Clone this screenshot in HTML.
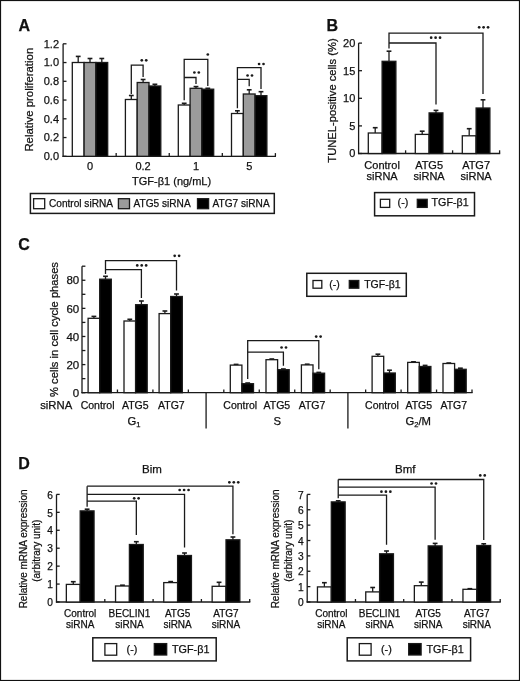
<!DOCTYPE html>
<html><head><meta charset="utf-8"><style>
html,body{margin:0;padding:0;background:#fff;}
svg{display:block;}
text{font-family:"Liberation Sans",sans-serif;fill:#111;stroke:#111;stroke-width:0.25px;}
svg{-webkit-font-smoothing:antialiased;filter:grayscale(1);}
</style></head><body>
<svg width="520" height="681" viewBox="0 0 520 681">
<rect width="520" height="681" fill="#fff"/>
<rect x="0.5" y="0.5" width="519" height="680" fill="none" stroke="#111" stroke-width="1.2"/>
<text x="18.50" y="31.40" font-size="16" text-anchor="start" font-weight="bold" >A</text>
<line x1="63.10" y1="43.80" x2="63.10" y2="156.90" stroke="#1a1a1a" stroke-width="1.3"/>
<line x1="63.10" y1="156.30" x2="66.50" y2="156.30" stroke="#1a1a1a" stroke-width="1.3"/>
<text x="59.00" y="160.20" font-size="11" text-anchor="end" font-weight="normal" >0.0</text>
<line x1="63.10" y1="137.55" x2="66.50" y2="137.55" stroke="#1a1a1a" stroke-width="1.3"/>
<text x="59.00" y="141.45" font-size="11" text-anchor="end" font-weight="normal" >0.2</text>
<line x1="63.10" y1="118.80" x2="66.50" y2="118.80" stroke="#1a1a1a" stroke-width="1.3"/>
<text x="59.00" y="122.70" font-size="11" text-anchor="end" font-weight="normal" >0.4</text>
<line x1="63.10" y1="100.05" x2="66.50" y2="100.05" stroke="#1a1a1a" stroke-width="1.3"/>
<text x="59.00" y="103.95" font-size="11" text-anchor="end" font-weight="normal" >0.6</text>
<line x1="63.10" y1="81.30" x2="66.50" y2="81.30" stroke="#1a1a1a" stroke-width="1.3"/>
<text x="59.00" y="85.20" font-size="11" text-anchor="end" font-weight="normal" >0.8</text>
<line x1="63.10" y1="62.55" x2="66.50" y2="62.55" stroke="#1a1a1a" stroke-width="1.3"/>
<text x="59.00" y="66.45" font-size="11" text-anchor="end" font-weight="normal" >1.0</text>
<line x1="63.10" y1="43.80" x2="66.50" y2="43.80" stroke="#1a1a1a" stroke-width="1.3"/>
<text x="59.00" y="47.70" font-size="11" text-anchor="end" font-weight="normal" >1.2</text>
<line x1="62.50" y1="156.30" x2="276.00" y2="156.30" stroke="#1a1a1a" stroke-width="1.3"/>
<line x1="116.17" y1="156.30" x2="116.17" y2="153.10" stroke="#1a1a1a" stroke-width="1.3"/>
<line x1="169.25" y1="156.30" x2="169.25" y2="153.10" stroke="#1a1a1a" stroke-width="1.3"/>
<line x1="222.32" y1="156.30" x2="222.32" y2="153.10" stroke="#1a1a1a" stroke-width="1.3"/>
<line x1="275.40" y1="156.30" x2="275.40" y2="153.10" stroke="#1a1a1a" stroke-width="1.3"/>
<text transform="translate(32.60,99.70) rotate(-90)" font-size="11.4" text-anchor="middle">Relative proliferation</text>
<text x="90.00" y="170.40" font-size="11" text-anchor="middle" font-weight="normal" >0</text>
<text x="143.10" y="170.40" font-size="11" text-anchor="middle" font-weight="normal" >0.2</text>
<text x="196.00" y="170.40" font-size="11" text-anchor="middle" font-weight="normal" >1</text>
<text x="249.20" y="170.40" font-size="11" text-anchor="middle" font-weight="normal" >5</text>
<text x="171.60" y="185.20" font-size="11" text-anchor="middle" font-weight="normal" >TGF-β1 (ng/mL)</text>
<line x1="78.20" y1="56.40" x2="78.20" y2="62.50" stroke="#1a1a1a" stroke-width="1.3"/>
<line x1="75.80" y1="56.40" x2="80.60" y2="56.40" stroke="#1a1a1a" stroke-width="1.6"/>
<rect x="72.30" y="62.50" width="11.80" height="93.80" fill="#fff" stroke="#1a1a1a" stroke-width="1.3"/>
<line x1="90.00" y1="58.50" x2="90.00" y2="62.50" stroke="#1a1a1a" stroke-width="1.3"/>
<line x1="87.60" y1="58.50" x2="92.40" y2="58.50" stroke="#1a1a1a" stroke-width="1.6"/>
<rect x="84.10" y="62.50" width="11.80" height="93.80" fill="#9b9b9b" stroke="#1a1a1a" stroke-width="1.3"/>
<line x1="101.80" y1="58.50" x2="101.80" y2="62.50" stroke="#1a1a1a" stroke-width="1.3"/>
<line x1="99.40" y1="58.50" x2="104.20" y2="58.50" stroke="#1a1a1a" stroke-width="1.6"/>
<rect x="95.90" y="62.50" width="11.80" height="93.80" fill="#000" stroke="#1a1a1a" stroke-width="1.3"/>
<line x1="131.30" y1="95.50" x2="131.30" y2="99.50" stroke="#1a1a1a" stroke-width="1.3"/>
<line x1="128.90" y1="95.50" x2="133.70" y2="95.50" stroke="#1a1a1a" stroke-width="1.6"/>
<rect x="125.40" y="99.50" width="11.80" height="56.80" fill="#fff" stroke="#1a1a1a" stroke-width="1.3"/>
<line x1="143.10" y1="79.50" x2="143.10" y2="82.50" stroke="#1a1a1a" stroke-width="1.3"/>
<line x1="140.70" y1="79.50" x2="145.50" y2="79.50" stroke="#1a1a1a" stroke-width="1.6"/>
<rect x="137.20" y="82.50" width="11.80" height="73.80" fill="#9b9b9b" stroke="#1a1a1a" stroke-width="1.3"/>
<line x1="154.90" y1="84.30" x2="154.90" y2="86.00" stroke="#1a1a1a" stroke-width="1.3"/>
<line x1="152.50" y1="84.30" x2="157.30" y2="84.30" stroke="#1a1a1a" stroke-width="1.6"/>
<rect x="149.00" y="86.00" width="11.80" height="70.30" fill="#000" stroke="#1a1a1a" stroke-width="1.3"/>
<line x1="184.20" y1="103.30" x2="184.20" y2="105.00" stroke="#1a1a1a" stroke-width="1.3"/>
<line x1="181.80" y1="103.30" x2="186.60" y2="103.30" stroke="#1a1a1a" stroke-width="1.6"/>
<rect x="178.30" y="105.00" width="11.80" height="51.30" fill="#fff" stroke="#1a1a1a" stroke-width="1.3"/>
<line x1="196.00" y1="86.60" x2="196.00" y2="88.30" stroke="#1a1a1a" stroke-width="1.3"/>
<line x1="193.60" y1="86.60" x2="198.40" y2="86.60" stroke="#1a1a1a" stroke-width="1.6"/>
<rect x="190.10" y="88.30" width="11.80" height="68.00" fill="#9b9b9b" stroke="#1a1a1a" stroke-width="1.3"/>
<line x1="207.80" y1="88.30" x2="207.80" y2="89.20" stroke="#1a1a1a" stroke-width="1.3"/>
<line x1="205.40" y1="88.30" x2="210.20" y2="88.30" stroke="#1a1a1a" stroke-width="1.6"/>
<rect x="201.90" y="89.20" width="11.80" height="67.10" fill="#000" stroke="#1a1a1a" stroke-width="1.3"/>
<line x1="237.40" y1="110.80" x2="237.40" y2="113.50" stroke="#1a1a1a" stroke-width="1.3"/>
<line x1="235.00" y1="110.80" x2="239.80" y2="110.80" stroke="#1a1a1a" stroke-width="1.6"/>
<rect x="231.50" y="113.50" width="11.80" height="42.80" fill="#fff" stroke="#1a1a1a" stroke-width="1.3"/>
<line x1="249.20" y1="89.80" x2="249.20" y2="94.00" stroke="#1a1a1a" stroke-width="1.3"/>
<line x1="246.80" y1="89.80" x2="251.60" y2="89.80" stroke="#1a1a1a" stroke-width="1.6"/>
<rect x="243.30" y="94.00" width="11.80" height="62.30" fill="#9b9b9b" stroke="#1a1a1a" stroke-width="1.3"/>
<line x1="261.00" y1="91.70" x2="261.00" y2="95.70" stroke="#1a1a1a" stroke-width="1.3"/>
<line x1="258.60" y1="91.70" x2="263.40" y2="91.70" stroke="#1a1a1a" stroke-width="1.6"/>
<rect x="255.10" y="95.70" width="11.80" height="60.60" fill="#000" stroke="#1a1a1a" stroke-width="1.3"/>
<polyline points="131.30,94.00 131.30,65.20 143.10,65.20 143.10,77.00" fill="none" stroke="#1a1a1a" stroke-width="1.3" stroke-linejoin="miter"/>
<circle cx="141.78" cy="60.30" r="1.35" fill="#1a1a1a"/>
<circle cx="146.22" cy="60.30" r="1.35" fill="#1a1a1a"/>
<polyline points="184.20,100.30 184.20,59.30 207.80,59.30 207.80,86.00" fill="none" stroke="#1a1a1a" stroke-width="1.3" stroke-linejoin="miter"/>
<polyline points="184.20,77.50 196.00,77.50 196.00,84.00" fill="none" stroke="#1a1a1a" stroke-width="1.3" stroke-linejoin="miter"/>
<circle cx="207.80" cy="54.50" r="1.35" fill="#1a1a1a"/>
<circle cx="194.38" cy="72.50" r="1.35" fill="#1a1a1a"/>
<circle cx="198.82" cy="72.50" r="1.35" fill="#1a1a1a"/>
<polyline points="237.40,108.30 237.40,67.70 261.00,67.70 261.00,89.00" fill="none" stroke="#1a1a1a" stroke-width="1.3" stroke-linejoin="miter"/>
<polyline points="237.40,79.40 249.20,79.40 249.20,86.20" fill="none" stroke="#1a1a1a" stroke-width="1.3" stroke-linejoin="miter"/>
<circle cx="259.07" cy="64.00" r="1.35" fill="#1a1a1a"/>
<circle cx="263.52" cy="64.00" r="1.35" fill="#1a1a1a"/>
<circle cx="247.57" cy="75.50" r="1.35" fill="#1a1a1a"/>
<circle cx="252.02" cy="75.50" r="1.35" fill="#1a1a1a"/>
<rect x="30.40" y="193.50" width="243.90" height="19.90" fill="none" stroke="#1a1a1a" stroke-width="1.5"/>
<rect x="33.60" y="198.70" width="11.10" height="10.00" fill="#fff" stroke="#1a1a1a" stroke-width="1.3"/>
<text x="49.00" y="207.00" font-size="10.1" text-anchor="start" font-weight="normal" >Control siRNA</text>
<rect x="118.40" y="198.70" width="11.10" height="10.00" fill="#9b9b9b" stroke="#1a1a1a" stroke-width="1.3"/>
<text x="133.60" y="207.00" font-size="10.1" text-anchor="start" font-weight="normal" >ATG5 siRNA</text>
<rect x="197.50" y="198.70" width="11.10" height="10.00" fill="#000" stroke="#1a1a1a" stroke-width="1.3"/>
<text x="212.60" y="207.00" font-size="10.1" text-anchor="start" font-weight="normal" >ATG7 siRNA</text>
<text x="326.40" y="31.40" font-size="16" text-anchor="start" font-weight="bold" >B</text>
<line x1="358.60" y1="43.10" x2="358.60" y2="154.10" stroke="#1a1a1a" stroke-width="1.3"/>
<line x1="358.60" y1="153.50" x2="362.00" y2="153.50" stroke="#1a1a1a" stroke-width="1.3"/>
<text x="355.30" y="157.40" font-size="11" text-anchor="end" font-weight="normal" >0</text>
<line x1="358.60" y1="125.90" x2="362.00" y2="125.90" stroke="#1a1a1a" stroke-width="1.3"/>
<text x="355.30" y="129.80" font-size="11" text-anchor="end" font-weight="normal" >5</text>
<line x1="358.60" y1="98.30" x2="362.00" y2="98.30" stroke="#1a1a1a" stroke-width="1.3"/>
<text x="355.30" y="102.20" font-size="11" text-anchor="end" font-weight="normal" >10</text>
<line x1="358.60" y1="70.70" x2="362.00" y2="70.70" stroke="#1a1a1a" stroke-width="1.3"/>
<text x="355.30" y="74.60" font-size="11" text-anchor="end" font-weight="normal" >15</text>
<line x1="358.60" y1="43.10" x2="362.00" y2="43.10" stroke="#1a1a1a" stroke-width="1.3"/>
<text x="355.30" y="47.00" font-size="11" text-anchor="end" font-weight="normal" >20</text>
<line x1="358.00" y1="153.50" x2="500.20" y2="153.50" stroke="#1a1a1a" stroke-width="1.3"/>
<line x1="405.60" y1="153.50" x2="405.60" y2="150.30" stroke="#1a1a1a" stroke-width="1.3"/>
<line x1="452.60" y1="153.50" x2="452.60" y2="150.30" stroke="#1a1a1a" stroke-width="1.3"/>
<line x1="499.60" y1="153.50" x2="499.60" y2="150.30" stroke="#1a1a1a" stroke-width="1.3"/>
<text transform="translate(335.60,100.50) rotate(-90)" font-size="11.2" text-anchor="middle">TUNEL-positive cells (%)</text>
<text x="382.10" y="168.60" font-size="11" text-anchor="middle" font-weight="normal" >Control</text>
<text x="382.10" y="179.60" font-size="11" text-anchor="middle" font-weight="normal" >siRNA</text>
<text x="429.10" y="168.60" font-size="11" text-anchor="middle" font-weight="normal" >ATG5</text>
<text x="429.10" y="179.60" font-size="11" text-anchor="middle" font-weight="normal" >siRNA</text>
<text x="476.10" y="168.60" font-size="11" text-anchor="middle" font-weight="normal" >ATG7</text>
<text x="476.10" y="179.60" font-size="11" text-anchor="middle" font-weight="normal" >siRNA</text>
<line x1="375.20" y1="127.70" x2="375.20" y2="133.00" stroke="#1a1a1a" stroke-width="1.3"/>
<line x1="372.80" y1="127.70" x2="377.60" y2="127.70" stroke="#1a1a1a" stroke-width="1.6"/>
<rect x="368.30" y="133.00" width="13.80" height="20.50" fill="#fff" stroke="#1a1a1a" stroke-width="1.3"/>
<line x1="389.00" y1="51.20" x2="389.00" y2="61.30" stroke="#1a1a1a" stroke-width="1.3"/>
<line x1="386.60" y1="51.20" x2="391.40" y2="51.20" stroke="#1a1a1a" stroke-width="1.6"/>
<rect x="382.10" y="61.30" width="13.80" height="92.20" fill="#000" stroke="#1a1a1a" stroke-width="1.3"/>
<line x1="422.20" y1="131.20" x2="422.20" y2="134.40" stroke="#1a1a1a" stroke-width="1.3"/>
<line x1="419.80" y1="131.20" x2="424.60" y2="131.20" stroke="#1a1a1a" stroke-width="1.6"/>
<rect x="415.30" y="134.40" width="13.80" height="19.10" fill="#fff" stroke="#1a1a1a" stroke-width="1.3"/>
<line x1="436.00" y1="110.40" x2="436.00" y2="112.90" stroke="#1a1a1a" stroke-width="1.3"/>
<line x1="433.60" y1="110.40" x2="438.40" y2="110.40" stroke="#1a1a1a" stroke-width="1.6"/>
<rect x="429.10" y="112.90" width="13.80" height="40.60" fill="#000" stroke="#1a1a1a" stroke-width="1.3"/>
<line x1="469.20" y1="128.70" x2="469.20" y2="135.80" stroke="#1a1a1a" stroke-width="1.3"/>
<line x1="466.80" y1="128.70" x2="471.60" y2="128.70" stroke="#1a1a1a" stroke-width="1.6"/>
<rect x="462.30" y="135.80" width="13.80" height="17.70" fill="#fff" stroke="#1a1a1a" stroke-width="1.3"/>
<line x1="483.00" y1="99.80" x2="483.00" y2="108.00" stroke="#1a1a1a" stroke-width="1.3"/>
<line x1="480.60" y1="99.80" x2="485.40" y2="99.80" stroke="#1a1a1a" stroke-width="1.6"/>
<rect x="476.10" y="108.00" width="13.80" height="45.50" fill="#000" stroke="#1a1a1a" stroke-width="1.3"/>
<polyline points="389.00,48.50 389.00,33.10 483.00,33.10 483.00,94.00" fill="none" stroke="#1a1a1a" stroke-width="1.3" stroke-linejoin="miter"/>
<polyline points="389.00,43.00 436.00,43.00 436.00,104.60" fill="none" stroke="#1a1a1a" stroke-width="1.3" stroke-linejoin="miter"/>
<circle cx="479.15" cy="27.30" r="1.35" fill="#1a1a1a"/>
<circle cx="483.60" cy="27.30" r="1.35" fill="#1a1a1a"/>
<circle cx="488.05" cy="27.30" r="1.35" fill="#1a1a1a"/>
<circle cx="431.15" cy="37.70" r="1.35" fill="#1a1a1a"/>
<circle cx="435.60" cy="37.70" r="1.35" fill="#1a1a1a"/>
<circle cx="440.05" cy="37.70" r="1.35" fill="#1a1a1a"/>
<rect x="374.60" y="192.60" width="99.90" height="23.20" fill="none" stroke="#1a1a1a" stroke-width="1.5"/>
<rect x="380.40" y="199.30" width="9.30" height="8.10" fill="#fff" stroke="#1a1a1a" stroke-width="1.3"/>
<text x="397.60" y="206.00" font-size="10.7" text-anchor="start" font-weight="normal" >(-)</text>
<rect x="417.30" y="199.30" width="9.90" height="8.10" fill="#000" stroke="#1a1a1a" stroke-width="1.3"/>
<text x="431.60" y="206.00" font-size="10.7" text-anchor="start" font-weight="normal" >TGF-β1</text>
<text x="18.30" y="250.20" font-size="16" text-anchor="start" font-weight="bold" >C</text>
<line x1="82.00" y1="266.20" x2="82.00" y2="393.30" stroke="#1a1a1a" stroke-width="1.3"/>
<line x1="82.00" y1="392.70" x2="85.40" y2="392.70" stroke="#1a1a1a" stroke-width="1.3"/>
<text x="79.20" y="396.90" font-size="11.5" text-anchor="end" font-weight="normal" >0</text>
<line x1="82.00" y1="378.64" x2="85.40" y2="378.64" stroke="#1a1a1a" stroke-width="1.3"/>
<line x1="82.00" y1="364.59" x2="85.40" y2="364.59" stroke="#1a1a1a" stroke-width="1.3"/>
<text x="79.20" y="368.79" font-size="11.5" text-anchor="end" font-weight="normal" >20</text>
<line x1="82.00" y1="350.53" x2="85.40" y2="350.53" stroke="#1a1a1a" stroke-width="1.3"/>
<line x1="82.00" y1="336.48" x2="85.40" y2="336.48" stroke="#1a1a1a" stroke-width="1.3"/>
<text x="79.20" y="340.68" font-size="11.5" text-anchor="end" font-weight="normal" >40</text>
<line x1="82.00" y1="322.42" x2="85.40" y2="322.42" stroke="#1a1a1a" stroke-width="1.3"/>
<line x1="82.00" y1="308.37" x2="85.40" y2="308.37" stroke="#1a1a1a" stroke-width="1.3"/>
<text x="79.20" y="312.57" font-size="11.5" text-anchor="end" font-weight="normal" >60</text>
<line x1="82.00" y1="294.31" x2="85.40" y2="294.31" stroke="#1a1a1a" stroke-width="1.3"/>
<line x1="82.00" y1="280.26" x2="85.40" y2="280.26" stroke="#1a1a1a" stroke-width="1.3"/>
<text x="79.20" y="284.46" font-size="11.5" text-anchor="end" font-weight="normal" >80</text>
<line x1="82.00" y1="266.20" x2="85.40" y2="266.20" stroke="#1a1a1a" stroke-width="1.3"/>
<line x1="81.40" y1="392.70" x2="472.60" y2="392.70" stroke="#1a1a1a" stroke-width="1.3"/>
<line x1="117.45" y1="392.70" x2="117.45" y2="389.50" stroke="#1a1a1a" stroke-width="1.3"/>
<line x1="152.91" y1="392.70" x2="152.91" y2="389.50" stroke="#1a1a1a" stroke-width="1.3"/>
<line x1="188.36" y1="392.70" x2="188.36" y2="389.50" stroke="#1a1a1a" stroke-width="1.3"/>
<line x1="223.82" y1="392.70" x2="223.82" y2="389.50" stroke="#1a1a1a" stroke-width="1.3"/>
<line x1="259.27" y1="392.70" x2="259.27" y2="389.50" stroke="#1a1a1a" stroke-width="1.3"/>
<line x1="294.73" y1="392.70" x2="294.73" y2="389.50" stroke="#1a1a1a" stroke-width="1.3"/>
<line x1="330.18" y1="392.70" x2="330.18" y2="389.50" stroke="#1a1a1a" stroke-width="1.3"/>
<line x1="365.64" y1="392.70" x2="365.64" y2="389.50" stroke="#1a1a1a" stroke-width="1.3"/>
<line x1="401.09" y1="392.70" x2="401.09" y2="389.50" stroke="#1a1a1a" stroke-width="1.3"/>
<line x1="436.55" y1="392.70" x2="436.55" y2="389.50" stroke="#1a1a1a" stroke-width="1.3"/>
<line x1="472.00" y1="392.70" x2="472.00" y2="389.50" stroke="#1a1a1a" stroke-width="1.3"/>
<line x1="206.09" y1="392.70" x2="206.09" y2="428.60" stroke="#1a1a1a" stroke-width="1.3"/>
<line x1="347.91" y1="392.70" x2="347.91" y2="428.60" stroke="#1a1a1a" stroke-width="1.3"/>
<text transform="translate(58.20,329.50) rotate(-90)" font-size="11.2" text-anchor="middle">% cells in cell cycle phases</text>
<text x="97.60" y="408.70" font-size="10.5" text-anchor="middle" font-weight="normal" >Control</text>
<text x="135.30" y="408.70" font-size="10.5" text-anchor="middle" font-weight="normal" >ATG5</text>
<text x="171.40" y="408.70" font-size="10.5" text-anchor="middle" font-weight="normal" >ATG7</text>
<text x="240.30" y="408.70" font-size="10.5" text-anchor="middle" font-weight="normal" >Control</text>
<text x="276.90" y="408.70" font-size="10.5" text-anchor="middle" font-weight="normal" >ATG5</text>
<text x="312.00" y="408.70" font-size="10.5" text-anchor="middle" font-weight="normal" >ATG7</text>
<text x="382.00" y="408.70" font-size="10.5" text-anchor="middle" font-weight="normal" >Control</text>
<text x="418.80" y="408.70" font-size="10.5" text-anchor="middle" font-weight="normal" >ATG5</text>
<text x="453.80" y="408.70" font-size="10.5" text-anchor="middle" font-weight="normal" >ATG7</text>
<text x="40.20" y="408.70" font-size="11.3" text-anchor="start" font-weight="normal" >siRNA</text>
<line x1="93.90" y1="316.40" x2="93.90" y2="318.30" stroke="#1a1a1a" stroke-width="1.3"/>
<line x1="91.50" y1="316.40" x2="96.30" y2="316.40" stroke="#1a1a1a" stroke-width="1.6"/>
<rect x="88.10" y="318.30" width="11.60" height="74.40" fill="#fff" stroke="#1a1a1a" stroke-width="1.3"/>
<line x1="105.50" y1="276.30" x2="105.50" y2="279.20" stroke="#1a1a1a" stroke-width="1.3"/>
<line x1="103.10" y1="276.30" x2="107.90" y2="276.30" stroke="#1a1a1a" stroke-width="1.6"/>
<rect x="99.70" y="279.20" width="11.60" height="113.50" fill="#000" stroke="#1a1a1a" stroke-width="1.3"/>
<line x1="129.80" y1="319.30" x2="129.80" y2="321.00" stroke="#1a1a1a" stroke-width="1.3"/>
<line x1="127.40" y1="319.30" x2="132.20" y2="319.30" stroke="#1a1a1a" stroke-width="1.6"/>
<rect x="124.00" y="321.00" width="11.60" height="71.70" fill="#fff" stroke="#1a1a1a" stroke-width="1.3"/>
<line x1="141.40" y1="301.00" x2="141.40" y2="304.70" stroke="#1a1a1a" stroke-width="1.3"/>
<line x1="139.00" y1="301.00" x2="143.80" y2="301.00" stroke="#1a1a1a" stroke-width="1.6"/>
<rect x="135.60" y="304.70" width="11.60" height="88.00" fill="#000" stroke="#1a1a1a" stroke-width="1.3"/>
<line x1="164.90" y1="311.00" x2="164.90" y2="313.60" stroke="#1a1a1a" stroke-width="1.3"/>
<line x1="162.50" y1="311.00" x2="167.30" y2="311.00" stroke="#1a1a1a" stroke-width="1.6"/>
<rect x="159.10" y="313.60" width="11.60" height="79.10" fill="#fff" stroke="#1a1a1a" stroke-width="1.3"/>
<line x1="176.50" y1="294.00" x2="176.50" y2="296.50" stroke="#1a1a1a" stroke-width="1.3"/>
<line x1="174.10" y1="294.00" x2="178.90" y2="294.00" stroke="#1a1a1a" stroke-width="1.6"/>
<rect x="170.70" y="296.50" width="11.60" height="96.20" fill="#000" stroke="#1a1a1a" stroke-width="1.3"/>
<line x1="236.10" y1="364.40" x2="236.10" y2="365.10" stroke="#1a1a1a" stroke-width="1.3"/>
<line x1="233.70" y1="364.40" x2="238.50" y2="364.40" stroke="#1a1a1a" stroke-width="1.6"/>
<rect x="230.30" y="365.10" width="11.60" height="27.60" fill="#fff" stroke="#1a1a1a" stroke-width="1.3"/>
<line x1="247.70" y1="383.00" x2="247.70" y2="383.70" stroke="#1a1a1a" stroke-width="1.3"/>
<line x1="245.30" y1="383.00" x2="250.10" y2="383.00" stroke="#1a1a1a" stroke-width="1.6"/>
<rect x="241.90" y="383.70" width="11.60" height="9.00" fill="#000" stroke="#1a1a1a" stroke-width="1.3"/>
<line x1="271.80" y1="359.00" x2="271.80" y2="359.70" stroke="#1a1a1a" stroke-width="1.3"/>
<line x1="269.40" y1="359.00" x2="274.20" y2="359.00" stroke="#1a1a1a" stroke-width="1.6"/>
<rect x="266.00" y="359.70" width="11.60" height="33.00" fill="#fff" stroke="#1a1a1a" stroke-width="1.3"/>
<line x1="283.40" y1="369.00" x2="283.40" y2="369.70" stroke="#1a1a1a" stroke-width="1.3"/>
<line x1="281.00" y1="369.00" x2="285.80" y2="369.00" stroke="#1a1a1a" stroke-width="1.6"/>
<rect x="277.60" y="369.70" width="11.60" height="23.00" fill="#000" stroke="#1a1a1a" stroke-width="1.3"/>
<line x1="307.20" y1="364.20" x2="307.20" y2="364.90" stroke="#1a1a1a" stroke-width="1.3"/>
<line x1="304.80" y1="364.20" x2="309.60" y2="364.20" stroke="#1a1a1a" stroke-width="1.6"/>
<rect x="301.40" y="364.90" width="11.60" height="27.80" fill="#fff" stroke="#1a1a1a" stroke-width="1.3"/>
<line x1="318.80" y1="372.40" x2="318.80" y2="373.20" stroke="#1a1a1a" stroke-width="1.3"/>
<line x1="316.40" y1="372.40" x2="321.20" y2="372.40" stroke="#1a1a1a" stroke-width="1.6"/>
<rect x="313.00" y="373.20" width="11.60" height="19.50" fill="#000" stroke="#1a1a1a" stroke-width="1.3"/>
<line x1="377.90" y1="354.20" x2="377.90" y2="356.30" stroke="#1a1a1a" stroke-width="1.3"/>
<line x1="375.50" y1="354.20" x2="380.30" y2="354.20" stroke="#1a1a1a" stroke-width="1.6"/>
<rect x="372.10" y="356.30" width="11.60" height="36.40" fill="#fff" stroke="#1a1a1a" stroke-width="1.3"/>
<line x1="389.50" y1="370.20" x2="389.50" y2="373.00" stroke="#1a1a1a" stroke-width="1.3"/>
<line x1="387.10" y1="370.20" x2="391.90" y2="370.20" stroke="#1a1a1a" stroke-width="1.6"/>
<rect x="383.70" y="373.00" width="11.60" height="19.70" fill="#000" stroke="#1a1a1a" stroke-width="1.3"/>
<line x1="413.50" y1="361.80" x2="413.50" y2="362.40" stroke="#1a1a1a" stroke-width="1.3"/>
<line x1="411.10" y1="361.80" x2="415.90" y2="361.80" stroke="#1a1a1a" stroke-width="1.6"/>
<rect x="407.70" y="362.40" width="11.60" height="30.30" fill="#fff" stroke="#1a1a1a" stroke-width="1.3"/>
<line x1="425.10" y1="365.40" x2="425.10" y2="366.50" stroke="#1a1a1a" stroke-width="1.3"/>
<line x1="422.70" y1="365.40" x2="427.50" y2="365.40" stroke="#1a1a1a" stroke-width="1.6"/>
<rect x="419.30" y="366.50" width="11.60" height="26.20" fill="#000" stroke="#1a1a1a" stroke-width="1.3"/>
<line x1="448.80" y1="363.00" x2="448.80" y2="363.50" stroke="#1a1a1a" stroke-width="1.3"/>
<line x1="446.40" y1="363.00" x2="451.20" y2="363.00" stroke="#1a1a1a" stroke-width="1.6"/>
<rect x="443.00" y="363.50" width="11.60" height="29.20" fill="#fff" stroke="#1a1a1a" stroke-width="1.3"/>
<line x1="460.40" y1="368.20" x2="460.40" y2="369.30" stroke="#1a1a1a" stroke-width="1.3"/>
<line x1="458.00" y1="368.20" x2="462.80" y2="368.20" stroke="#1a1a1a" stroke-width="1.6"/>
<rect x="454.60" y="369.30" width="11.60" height="23.40" fill="#000" stroke="#1a1a1a" stroke-width="1.3"/>
<polyline points="105.50,274.00 105.50,260.60 176.50,260.60 176.50,290.40" fill="none" stroke="#1a1a1a" stroke-width="1.3" stroke-linejoin="miter"/>
<polyline points="105.50,269.60 141.40,269.60 141.40,298.00" fill="none" stroke="#1a1a1a" stroke-width="1.3" stroke-linejoin="miter"/>
<circle cx="137.25" cy="265.40" r="1.35" fill="#1a1a1a"/>
<circle cx="141.70" cy="265.40" r="1.35" fill="#1a1a1a"/>
<circle cx="146.15" cy="265.40" r="1.35" fill="#1a1a1a"/>
<circle cx="174.68" cy="255.80" r="1.35" fill="#1a1a1a"/>
<circle cx="179.12" cy="255.80" r="1.35" fill="#1a1a1a"/>
<polyline points="247.70,379.00 247.70,340.60 318.80,340.60 318.80,369.30" fill="none" stroke="#1a1a1a" stroke-width="1.3" stroke-linejoin="miter"/>
<polyline points="247.70,352.20 283.40,352.20 283.40,365.80" fill="none" stroke="#1a1a1a" stroke-width="1.3" stroke-linejoin="miter"/>
<circle cx="316.18" cy="336.60" r="1.35" fill="#1a1a1a"/>
<circle cx="320.62" cy="336.60" r="1.35" fill="#1a1a1a"/>
<circle cx="281.57" cy="347.50" r="1.35" fill="#1a1a1a"/>
<circle cx="286.02" cy="347.50" r="1.35" fill="#1a1a1a"/>
<text x="134.00" y="424.80" font-size="11.3" text-anchor="middle" font-weight="normal" >G<tspan font-size="7.5" dy="2.5">1</tspan></text>
<text x="277.20" y="424.80" font-size="11.3" text-anchor="middle" font-weight="normal" >S</text>
<text x="418.20" y="424.80" font-size="11.3" text-anchor="middle" font-weight="normal" >G<tspan font-size="7.5" dy="2.5">2</tspan><tspan dy="-2.5">/M</tspan></text>
<rect x="306.80" y="273.30" width="99.50" height="23.00" fill="none" stroke="#1a1a1a" stroke-width="1.5"/>
<rect x="313.00" y="280.50" width="8.80" height="7.70" fill="#fff" stroke="#1a1a1a" stroke-width="1.3"/>
<text x="329.20" y="288.00" font-size="10.5" text-anchor="start" font-weight="normal" >(-)</text>
<rect x="349.30" y="280.50" width="9.50" height="7.70" fill="#000" stroke="#1a1a1a" stroke-width="1.3"/>
<text x="364.20" y="288.00" font-size="10.5" text-anchor="start" font-weight="normal" >TGF-β1</text>
<text x="18.30" y="469.40" font-size="16" text-anchor="start" font-weight="bold" >D</text>
<line x1="56.50" y1="494.40" x2="56.50" y2="602.60" stroke="#1a1a1a" stroke-width="1.3"/>
<line x1="56.50" y1="602.00" x2="59.70" y2="602.00" stroke="#1a1a1a" stroke-width="1.3"/>
<text x="52.90" y="606.20" font-size="10.2" text-anchor="end" font-weight="normal" >0</text>
<line x1="56.50" y1="584.07" x2="59.70" y2="584.07" stroke="#1a1a1a" stroke-width="1.3"/>
<text x="52.90" y="588.27" font-size="10.2" text-anchor="end" font-weight="normal" >1</text>
<line x1="56.50" y1="566.13" x2="59.70" y2="566.13" stroke="#1a1a1a" stroke-width="1.3"/>
<text x="52.90" y="570.33" font-size="10.2" text-anchor="end" font-weight="normal" >2</text>
<line x1="56.50" y1="548.20" x2="59.70" y2="548.20" stroke="#1a1a1a" stroke-width="1.3"/>
<text x="52.90" y="552.40" font-size="10.2" text-anchor="end" font-weight="normal" >3</text>
<line x1="56.50" y1="530.27" x2="59.70" y2="530.27" stroke="#1a1a1a" stroke-width="1.3"/>
<text x="52.90" y="534.47" font-size="10.2" text-anchor="end" font-weight="normal" >4</text>
<line x1="56.50" y1="512.33" x2="59.70" y2="512.33" stroke="#1a1a1a" stroke-width="1.3"/>
<text x="52.90" y="516.53" font-size="10.2" text-anchor="end" font-weight="normal" >5</text>
<line x1="56.50" y1="494.40" x2="59.70" y2="494.40" stroke="#1a1a1a" stroke-width="1.3"/>
<text x="52.90" y="498.60" font-size="10.2" text-anchor="end" font-weight="normal" >6</text>
<line x1="55.90" y1="602.00" x2="250.30" y2="602.00" stroke="#1a1a1a" stroke-width="1.3"/>
<line x1="104.80" y1="602.00" x2="104.80" y2="599.00" stroke="#1a1a1a" stroke-width="1.3"/>
<line x1="153.10" y1="602.00" x2="153.10" y2="599.00" stroke="#1a1a1a" stroke-width="1.3"/>
<line x1="201.40" y1="602.00" x2="201.40" y2="599.00" stroke="#1a1a1a" stroke-width="1.3"/>
<line x1="249.70" y1="602.00" x2="249.70" y2="599.00" stroke="#1a1a1a" stroke-width="1.3"/>
<line x1="73.28" y1="581.70" x2="73.28" y2="584.40" stroke="#1a1a1a" stroke-width="1.3"/>
<line x1="70.88" y1="581.70" x2="75.68" y2="581.70" stroke="#1a1a1a" stroke-width="1.6"/>
<rect x="66.35" y="584.40" width="13.85" height="17.60" fill="#fff" stroke="#1a1a1a" stroke-width="1.3"/>
<line x1="87.12" y1="509.20" x2="87.12" y2="510.90" stroke="#1a1a1a" stroke-width="1.3"/>
<line x1="84.72" y1="509.20" x2="89.53" y2="509.20" stroke="#1a1a1a" stroke-width="1.6"/>
<rect x="80.20" y="510.90" width="13.85" height="91.10" fill="#000" stroke="#1a1a1a" stroke-width="1.3"/>
<line x1="122.48" y1="585.20" x2="122.48" y2="586.00" stroke="#1a1a1a" stroke-width="1.3"/>
<line x1="120.08" y1="585.20" x2="124.88" y2="585.20" stroke="#1a1a1a" stroke-width="1.6"/>
<rect x="115.55" y="586.00" width="13.85" height="16.00" fill="#fff" stroke="#1a1a1a" stroke-width="1.3"/>
<line x1="136.32" y1="541.70" x2="136.32" y2="544.50" stroke="#1a1a1a" stroke-width="1.3"/>
<line x1="133.92" y1="541.70" x2="138.72" y2="541.70" stroke="#1a1a1a" stroke-width="1.6"/>
<rect x="129.40" y="544.50" width="13.85" height="57.50" fill="#000" stroke="#1a1a1a" stroke-width="1.3"/>
<line x1="170.68" y1="581.60" x2="170.68" y2="582.60" stroke="#1a1a1a" stroke-width="1.3"/>
<line x1="168.28" y1="581.60" x2="173.08" y2="581.60" stroke="#1a1a1a" stroke-width="1.6"/>
<rect x="163.75" y="582.60" width="13.85" height="19.40" fill="#fff" stroke="#1a1a1a" stroke-width="1.3"/>
<line x1="184.52" y1="553.00" x2="184.52" y2="555.50" stroke="#1a1a1a" stroke-width="1.3"/>
<line x1="182.12" y1="553.00" x2="186.92" y2="553.00" stroke="#1a1a1a" stroke-width="1.6"/>
<rect x="177.60" y="555.50" width="13.85" height="46.50" fill="#000" stroke="#1a1a1a" stroke-width="1.3"/>
<line x1="219.07" y1="582.30" x2="219.07" y2="586.30" stroke="#1a1a1a" stroke-width="1.3"/>
<line x1="216.67" y1="582.30" x2="221.47" y2="582.30" stroke="#1a1a1a" stroke-width="1.6"/>
<rect x="212.15" y="586.30" width="13.85" height="15.70" fill="#fff" stroke="#1a1a1a" stroke-width="1.3"/>
<line x1="232.93" y1="537.00" x2="232.93" y2="539.80" stroke="#1a1a1a" stroke-width="1.3"/>
<line x1="230.53" y1="537.00" x2="235.33" y2="537.00" stroke="#1a1a1a" stroke-width="1.6"/>
<rect x="226.00" y="539.80" width="13.85" height="62.20" fill="#000" stroke="#1a1a1a" stroke-width="1.3"/>
<text x="80.20" y="616.60" font-size="10" text-anchor="middle" font-weight="normal" >Control</text>
<text x="80.20" y="627.60" font-size="10" text-anchor="middle" font-weight="normal" >siRNA</text>
<text x="129.40" y="616.60" font-size="10" text-anchor="middle" font-weight="normal" >BECLIN1</text>
<text x="129.40" y="627.60" font-size="10" text-anchor="middle" font-weight="normal" >siRNA</text>
<text x="177.60" y="616.60" font-size="10" text-anchor="middle" font-weight="normal" >ATG5</text>
<text x="177.60" y="627.60" font-size="10" text-anchor="middle" font-weight="normal" >siRNA</text>
<text x="226.00" y="616.60" font-size="10" text-anchor="middle" font-weight="normal" >ATG7</text>
<text x="226.00" y="627.60" font-size="10" text-anchor="middle" font-weight="normal" >siRNA</text>
<text x="151.90" y="473.20" font-size="11.5" text-anchor="middle" font-weight="normal" >Bim</text>
<polyline points="87.12,486.20 232.93,486.20 232.93,534.20" fill="none" stroke="#1a1a1a" stroke-width="1.3" stroke-linejoin="miter"/>
<polyline points="87.12,494.40 184.53,494.40 184.53,547.50" fill="none" stroke="#1a1a1a" stroke-width="1.3" stroke-linejoin="miter"/>
<polyline points="87.12,501.10 136.33,501.10 136.33,535.00" fill="none" stroke="#1a1a1a" stroke-width="1.3" stroke-linejoin="miter"/>
<line x1="87.12" y1="486.20" x2="87.12" y2="506.70" stroke="#1a1a1a" stroke-width="1.3"/>
<circle cx="134.18" cy="498.30" r="1.35" fill="#1a1a1a"/>
<circle cx="138.62" cy="498.30" r="1.35" fill="#1a1a1a"/>
<circle cx="179.65" cy="490.00" r="1.35" fill="#1a1a1a"/>
<circle cx="184.10" cy="490.00" r="1.35" fill="#1a1a1a"/>
<circle cx="188.55" cy="490.00" r="1.35" fill="#1a1a1a"/>
<circle cx="229.35" cy="482.30" r="1.35" fill="#1a1a1a"/>
<circle cx="233.80" cy="482.30" r="1.35" fill="#1a1a1a"/>
<circle cx="238.25" cy="482.30" r="1.35" fill="#1a1a1a"/>
<rect x="92.80" y="637.80" width="123.40" height="23.10" fill="none" stroke="#1a1a1a" stroke-width="1.5"/>
<rect x="104.90" y="643.60" width="11.80" height="11.60" fill="#fff" stroke="#1a1a1a" stroke-width="1.3"/>
<text x="126.60" y="652.60" font-size="10.8" text-anchor="start" font-weight="normal" >(-)</text>
<rect x="154.30" y="643.60" width="12.40" height="11.40" fill="#000" stroke="#1a1a1a" stroke-width="1.3"/>
<text x="172.00" y="652.60" font-size="10.8" text-anchor="start" font-weight="normal" >TGF-β1</text>
<text transform="translate(27.4,548.9) rotate(-90)" font-size="10" text-anchor="middle">Relative mRNA expression</text>
<text transform="translate(40.1,550.7) rotate(-90)" font-size="10" text-anchor="middle">(arbitrary unit)</text>
<line x1="307.20" y1="494.40" x2="307.20" y2="602.60" stroke="#1a1a1a" stroke-width="1.3"/>
<line x1="307.20" y1="602.00" x2="310.40" y2="602.00" stroke="#1a1a1a" stroke-width="1.3"/>
<text x="303.60" y="606.20" font-size="10.2" text-anchor="end" font-weight="normal" >0</text>
<line x1="307.20" y1="586.63" x2="310.40" y2="586.63" stroke="#1a1a1a" stroke-width="1.3"/>
<text x="303.60" y="590.83" font-size="10.2" text-anchor="end" font-weight="normal" >1</text>
<line x1="307.20" y1="571.26" x2="310.40" y2="571.26" stroke="#1a1a1a" stroke-width="1.3"/>
<text x="303.60" y="575.46" font-size="10.2" text-anchor="end" font-weight="normal" >2</text>
<line x1="307.20" y1="555.89" x2="310.40" y2="555.89" stroke="#1a1a1a" stroke-width="1.3"/>
<text x="303.60" y="560.09" font-size="10.2" text-anchor="end" font-weight="normal" >3</text>
<line x1="307.20" y1="540.51" x2="310.40" y2="540.51" stroke="#1a1a1a" stroke-width="1.3"/>
<text x="303.60" y="544.71" font-size="10.2" text-anchor="end" font-weight="normal" >4</text>
<line x1="307.20" y1="525.14" x2="310.40" y2="525.14" stroke="#1a1a1a" stroke-width="1.3"/>
<text x="303.60" y="529.34" font-size="10.2" text-anchor="end" font-weight="normal" >5</text>
<line x1="307.20" y1="509.77" x2="310.40" y2="509.77" stroke="#1a1a1a" stroke-width="1.3"/>
<text x="303.60" y="513.97" font-size="10.2" text-anchor="end" font-weight="normal" >6</text>
<line x1="307.20" y1="494.40" x2="310.40" y2="494.40" stroke="#1a1a1a" stroke-width="1.3"/>
<text x="303.60" y="498.60" font-size="10.2" text-anchor="end" font-weight="normal" >7</text>
<line x1="306.60" y1="602.00" x2="500.80" y2="602.00" stroke="#1a1a1a" stroke-width="1.3"/>
<line x1="355.45" y1="602.00" x2="355.45" y2="599.00" stroke="#1a1a1a" stroke-width="1.3"/>
<line x1="403.70" y1="602.00" x2="403.70" y2="599.00" stroke="#1a1a1a" stroke-width="1.3"/>
<line x1="451.95" y1="602.00" x2="451.95" y2="599.00" stroke="#1a1a1a" stroke-width="1.3"/>
<line x1="500.20" y1="602.00" x2="500.20" y2="599.00" stroke="#1a1a1a" stroke-width="1.3"/>
<line x1="324.38" y1="582.70" x2="324.38" y2="586.90" stroke="#1a1a1a" stroke-width="1.3"/>
<line x1="321.98" y1="582.70" x2="326.77" y2="582.70" stroke="#1a1a1a" stroke-width="1.6"/>
<rect x="317.45" y="586.90" width="13.85" height="15.10" fill="#fff" stroke="#1a1a1a" stroke-width="1.3"/>
<line x1="338.23" y1="500.80" x2="338.23" y2="501.90" stroke="#1a1a1a" stroke-width="1.3"/>
<line x1="335.83" y1="500.80" x2="340.62" y2="500.80" stroke="#1a1a1a" stroke-width="1.6"/>
<rect x="331.30" y="501.90" width="13.85" height="100.10" fill="#000" stroke="#1a1a1a" stroke-width="1.3"/>
<line x1="372.68" y1="587.50" x2="372.68" y2="591.90" stroke="#1a1a1a" stroke-width="1.3"/>
<line x1="370.28" y1="587.50" x2="375.07" y2="587.50" stroke="#1a1a1a" stroke-width="1.6"/>
<rect x="365.75" y="591.90" width="13.85" height="10.10" fill="#fff" stroke="#1a1a1a" stroke-width="1.3"/>
<line x1="386.53" y1="551.00" x2="386.53" y2="553.80" stroke="#1a1a1a" stroke-width="1.3"/>
<line x1="384.13" y1="551.00" x2="388.93" y2="551.00" stroke="#1a1a1a" stroke-width="1.6"/>
<rect x="379.60" y="553.80" width="13.85" height="48.20" fill="#000" stroke="#1a1a1a" stroke-width="1.3"/>
<line x1="421.27" y1="582.10" x2="421.27" y2="585.70" stroke="#1a1a1a" stroke-width="1.3"/>
<line x1="418.88" y1="582.10" x2="423.67" y2="582.10" stroke="#1a1a1a" stroke-width="1.6"/>
<rect x="414.35" y="585.70" width="13.85" height="16.30" fill="#fff" stroke="#1a1a1a" stroke-width="1.3"/>
<line x1="435.12" y1="543.40" x2="435.12" y2="545.90" stroke="#1a1a1a" stroke-width="1.3"/>
<line x1="432.73" y1="543.40" x2="437.52" y2="543.40" stroke="#1a1a1a" stroke-width="1.6"/>
<rect x="428.20" y="545.90" width="13.85" height="56.10" fill="#000" stroke="#1a1a1a" stroke-width="1.3"/>
<line x1="469.88" y1="588.70" x2="469.88" y2="589.30" stroke="#1a1a1a" stroke-width="1.3"/>
<line x1="467.48" y1="588.70" x2="472.27" y2="588.70" stroke="#1a1a1a" stroke-width="1.6"/>
<rect x="462.95" y="589.30" width="13.85" height="12.70" fill="#fff" stroke="#1a1a1a" stroke-width="1.3"/>
<line x1="483.73" y1="543.80" x2="483.73" y2="545.50" stroke="#1a1a1a" stroke-width="1.3"/>
<line x1="481.33" y1="543.80" x2="486.12" y2="543.80" stroke="#1a1a1a" stroke-width="1.6"/>
<rect x="476.80" y="545.50" width="13.85" height="56.50" fill="#000" stroke="#1a1a1a" stroke-width="1.3"/>
<text x="331.30" y="616.60" font-size="10" text-anchor="middle" font-weight="normal" >Control</text>
<text x="331.30" y="627.60" font-size="10" text-anchor="middle" font-weight="normal" >siRNA</text>
<text x="379.60" y="616.60" font-size="10" text-anchor="middle" font-weight="normal" >BECLIN1</text>
<text x="379.60" y="627.60" font-size="10" text-anchor="middle" font-weight="normal" >siRNA</text>
<text x="428.20" y="616.60" font-size="10" text-anchor="middle" font-weight="normal" >ATG5</text>
<text x="428.20" y="627.60" font-size="10" text-anchor="middle" font-weight="normal" >siRNA</text>
<text x="476.80" y="616.60" font-size="10" text-anchor="middle" font-weight="normal" >ATG7</text>
<text x="476.80" y="627.60" font-size="10" text-anchor="middle" font-weight="normal" >siRNA</text>
<text x="405.20" y="473.20" font-size="11.5" text-anchor="middle" font-weight="normal" >Bmf</text>
<polyline points="338.23,479.50 483.73,479.50 483.73,540.00" fill="none" stroke="#1a1a1a" stroke-width="1.3" stroke-linejoin="miter"/>
<polyline points="338.23,487.20 435.12,487.20 435.12,539.80" fill="none" stroke="#1a1a1a" stroke-width="1.3" stroke-linejoin="miter"/>
<polyline points="338.23,495.20 386.53,495.20 386.53,544.80" fill="none" stroke="#1a1a1a" stroke-width="1.3" stroke-linejoin="miter"/>
<line x1="338.23" y1="479.50" x2="338.23" y2="498.30" stroke="#1a1a1a" stroke-width="1.3"/>
<circle cx="480.27" cy="475.40" r="1.35" fill="#1a1a1a"/>
<circle cx="484.72" cy="475.40" r="1.35" fill="#1a1a1a"/>
<circle cx="431.57" cy="483.50" r="1.35" fill="#1a1a1a"/>
<circle cx="436.02" cy="483.50" r="1.35" fill="#1a1a1a"/>
<circle cx="381.45" cy="491.70" r="1.35" fill="#1a1a1a"/>
<circle cx="385.90" cy="491.70" r="1.35" fill="#1a1a1a"/>
<circle cx="390.35" cy="491.70" r="1.35" fill="#1a1a1a"/>
<rect x="347.20" y="637.80" width="123.40" height="23.10" fill="none" stroke="#1a1a1a" stroke-width="1.5"/>
<rect x="359.30" y="643.60" width="11.80" height="11.60" fill="#fff" stroke="#1a1a1a" stroke-width="1.3"/>
<text x="381.00" y="652.60" font-size="10.8" text-anchor="start" font-weight="normal" >(-)</text>
<rect x="408.70" y="643.60" width="12.40" height="11.40" fill="#000" stroke="#1a1a1a" stroke-width="1.3"/>
<text x="426.40" y="652.60" font-size="10.8" text-anchor="start" font-weight="normal" >TGF-β1</text>
<text transform="translate(279.4,548.9) rotate(-90)" font-size="10" text-anchor="middle">Relative mRNA expression</text>
<text transform="translate(291.6,550.7) rotate(-90)" font-size="10" text-anchor="middle">(arbitrary unit)</text>
</svg></body></html>
